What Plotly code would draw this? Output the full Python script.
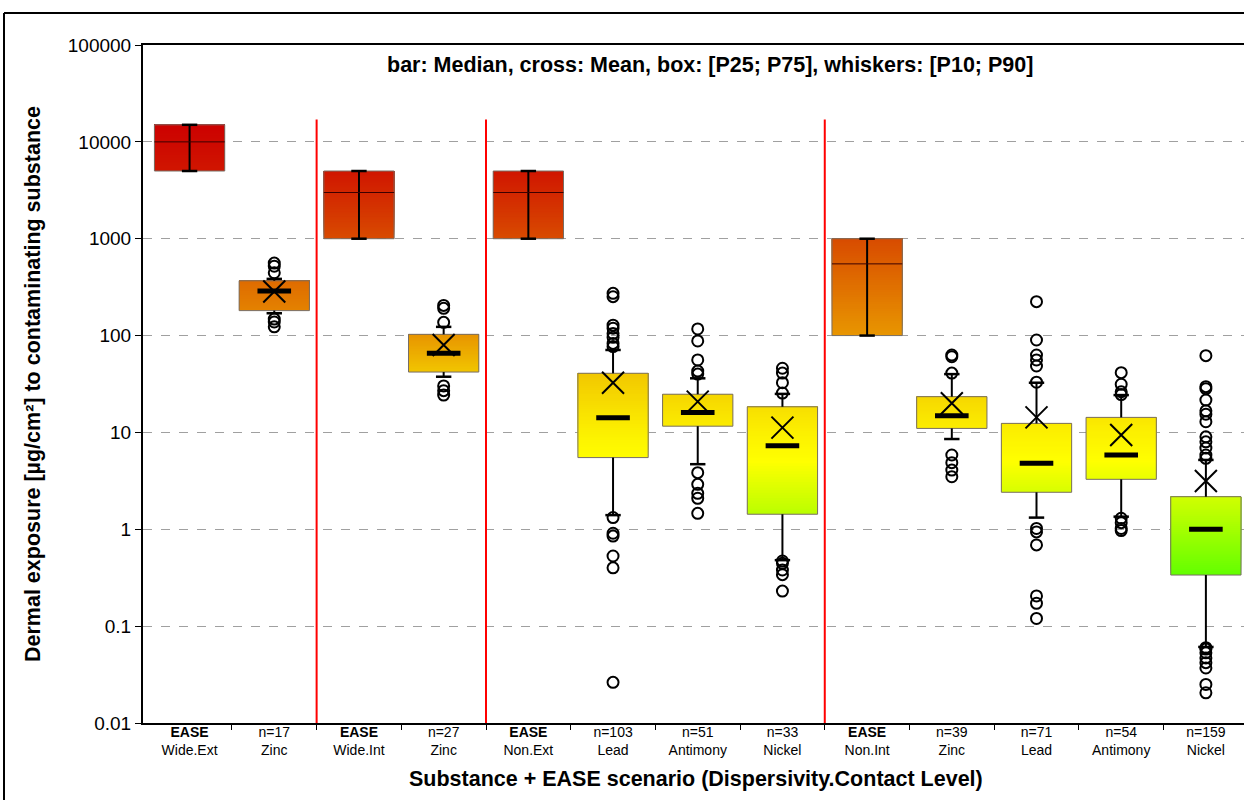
import numpy as np
import plotly.graph_objects as go

# ---------------- data ----------------
label_top = ["<b>EASE</b>", "n=17", "<b>EASE</b>", "n=27", "<b>EASE</b>", "n=103", "n=51",
             "n=33", "<b>EASE</b>", "n=39", "n=71", "n=54", "n=159"]
label_bottom = ["Wide.Ext", "Zinc", "Wide.Int", "Zinc", "Non.Ext", "Lead", "Antimony",
                "Nickel", "Non.Int", "Zinc", "Lead", "Antimony", "Nickel"]
is_ease = [True, False, True, False, True, False, False, False, True, False, False, False, False]

p10 = [5000, 170, 1000, 37.6, 1000, 1.4, 4.7, 0.48, 100, 8.55, 1.32, 1.35, 0.061]
q1 = [5000, 181, 1000, 42, 1000, 5.5, 11.6, 1.43, 100, 11.0, 2.41, 3.28, 0.337]
median = [10000, 288, 3000, 65.6, 3000, 14.2, 16.1, 7.3, 550, 14.9, 4.8, 5.85, 1.0]
q3 = [15000, 368, 5000, 103, 5000, 40.8, 24.8, 18.4, 1000, 23.4, 12.4, 14.3, 2.17]
p90 = [15000, 385, 5000, 123, 5000, 71, 36.2, 25, 1000, 40, 32.6, 24.3, 5.2]
mean = [None, 285, None, 80, None, 32.6, 20.8, 11.2, None, 20.0, 14.3, 9.4, 3.15]

outliers = [
    [],
    [560, 520, 445, 148, 138, 123],
    [],
    [205, 191, 137, 30.2, 27.0, 24.3],
    [],
    [273, 252, 128, 119, 105, 96, 83, 77, 1.32, 0.91, 0.85, 0.53, 0.40, 0.0263],
    [117, 88, 56, 43, 40, 3.84, 2.91, 2.35, 2.09, 1.46],
    [46, 41, 32.6, 25.5, 0.47, 0.445, 0.38, 0.34, 0.23],
    [],
    [63, 60.5, 41, 5.85, 4.87, 4.09, 3.49],
    [224, 90, 63, 56, 48.5, 33, 1.02, 0.94, 0.69, 0.205, 0.172, 0.12],
    [41.4, 31.4, 26.3, 24.6, 1.30, 1.17, 1.02, 0.97],
    [62, 29.7, 28.3, 21.6, 16.7, 15.4, 12.9, 9.0, 8.0, 6.9, 5.85, 5.4,
     0.06, 0.058, 0.053, 0.047, 0.042, 0.037, 0.025, 0.0205],
]

separators = [1.5, 3.5, 7.5]
ytick_vals = [0.01, 0.1, 1, 10, 100, 1000, 10000, 100000]
ytick_text = ["0.01", "0.1", "1", "10", "100", "1000", "10000", "100000"]

# colour ramp over log10(value)
ramp_pos = [-0.5, 0.15, 0.7, 1.0, 1.6, 2.0, 3.0, 3.7, 4.2]
ramp_rgb = [(95, 255, 0), (185, 255, 0), (255, 255, 0), (252, 240, 0), (242, 200, 0),
            (232, 150, 0), (216, 75, 0), (208, 22, 0), (204, 0, 0)]

FONT = "Liberation Sans, Arial, sans-serif"
BOX_W = 0.83
N_SEG = 40


def ramp(lv):
    r = np.interp(lv, ramp_pos, [c[0] for c in ramp_rgb])
    g = np.interp(lv, ramp_pos, [c[1] for c in ramp_rgb])
    b = np.interp(lv, ramp_pos, [c[2] for c in ramp_rgb])
    return f"rgb({int(round(r))},{int(round(g))},{int(round(b))})"


fig = go.Figure()
xs = list(range(len(label_bottom)))

# gradient boxes: each layer runs from its lower edge up to P75, drawn bottom-up
seg_x, seg_base, seg_h, seg_c = [], [], [], []
for i in xs:
    edges = np.logspace(np.log10(q1[i]), np.log10(q3[i]), N_SEG + 1)
    for k in range(N_SEG):
        lo, hi = edges[k], edges[k + 1]
        seg_x.append(i)
        seg_base.append(lo)
        seg_h.append(q3[i] - lo)
        seg_c.append(ramp(np.log10(np.sqrt(lo * hi))))
fig.add_trace(go.Bar(x=seg_x, y=seg_h, base=seg_base, width=BOX_W,
                     marker=dict(color=seg_c, line=dict(width=0)),
                     hoverinfo="skip", showlegend=False))
# box outlines
fig.add_trace(go.Bar(x=xs, y=[q3[i] - q1[i] for i in xs], base=q1, width=BOX_W,
                     marker=dict(color="rgba(0,0,0,0)",
                                 line=dict(color="rgb(120,110,100)", width=1)),
                     hoverinfo="skip", showlegend=False))

# whiskers
wx, wy = [], []
for i in xs:
    if is_ease[i]:
        wx += [i, i, None]
        wy += [p10[i], p90[i], None]
    else:
        wx += [i, i, None, i, i, None]
        wy += [q3[i], p90[i], None, p10[i], q1[i], None]
fig.add_trace(go.Scatter(x=wx, y=wy, mode="lines", line=dict(color="black", width=2),
                         hoverinfo="skip", showlegend=False))
# whisker caps
cx = [i for i in xs] + [i for i in xs]
cy = p10 + p90
fig.add_trace(go.Scatter(x=cx, y=cy, mode="markers",
                         marker=dict(symbol="line-ew", size=11, color="black",
                                     line=dict(color="black", width=2.5)),
                         hoverinfo="skip", showlegend=False))

# EASE medians: thin line across the box
mx, my = [], []
for i in xs:
    if is_ease[i]:
        mx += [i - BOX_W / 2, i + BOX_W / 2, None]
        my += [median[i], median[i], None]
fig.add_trace(go.Scatter(x=mx, y=my, mode="lines", line=dict(color="rgb(60,0,0)", width=1),
                         hoverinfo="skip", showlegend=False))

# substance medians: thick bar
sub = [i for i in xs if not is_ease[i]]
fig.add_trace(go.Scatter(x=sub, y=[median[i] for i in sub], mode="markers",
                         marker=dict(symbol="line-ew", size=24, color="black",
                                     line=dict(color="black", width=5)),
                         hoverinfo="skip", showlegend=False))
# means
fig.add_trace(go.Scatter(x=sub, y=[mean[i] for i in sub], mode="markers",
                         marker=dict(symbol="x-thin", size=22, color="black",
                                     line=dict(color="black", width=2)),
                         hoverinfo="skip", showlegend=False))
# outliers
ox, oy = [], []
for i in xs:
    for v in outliers[i]:
        ox.append(i)
        oy.append(v)
fig.add_trace(go.Scatter(x=ox, y=oy, mode="markers",
                         marker=dict(symbol="circle-open", size=11, color="black",
                                     line=dict(color="black", width=2)),
                         hoverinfo="skip", showlegend=False))

# red separators
rx, ry = [], []
for s in separators:
    rx += [s, s, None]
    ry += [0.01, 17000, None]
fig.add_trace(go.Scatter(x=rx, y=ry, mode="lines", line=dict(color="rgb(255,0,0)", width=2),
                         hoverinfo="skip", showlegend=False))

ticktext = [f"{t}<br>{b}" for t, b in zip(label_top, label_bottom)]

fig.update_layout(
    width=1244, height=800,
    margin=dict(l=143, r=0, t=45, b=77),
    paper_bgcolor="white", plot_bgcolor="white",
    barmode="overlay",
    font=dict(family=FONT, color="black"),
    showlegend=False,
    xaxis=dict(range=[-0.55, 12.45], tickvals=xs, ticktext=ticktext,
               tickfont=dict(size=14, family=FONT), ticks="", ticklabelstandoff=-5,
               showgrid=False, zeroline=False,
               showline=True, linecolor="black", linewidth=2, mirror=True,
               minor=dict(tickvals=[k + 0.5 for k in range(12)], ticks="outside",
                          ticklen=5, tickcolor="black", tickwidth=1, showgrid=False)),
    yaxis=dict(type="log", range=[-2, 5], tickvals=ytick_vals, ticktext=ytick_text,
               tickfont=dict(size=19, family=FONT), ticks="outside", ticklen=6,
               tickcolor="black", showline=True, linecolor="black", linewidth=2,
               showgrid=True, gridcolor="rgb(160,160,160)", griddash="dash", gridwidth=1,
               zeroline=False),
    annotations=[
        dict(text="bar: Median, cross: Mean, box: [P25; P75], whiskers: [P10; P90]",
             xref="paper", yref="paper", x=(710 - 143) / 1101, y=(723 - 65) / 678,
             xanchor="center", yanchor="middle", showarrow=False,
             font=dict(size=21.5, family=FONT, weight="bold")),
        dict(text="Substance + EASE scenario (Dispersivity.Contact Level)",
             xref="paper", yref="paper", x=(696 - 143) / 1101, y=(723 - 779) / 678,
             xanchor="center", yanchor="middle", showarrow=False,
             font=dict(size=21.5, family=FONT, weight="bold")),
        dict(text="Dermal exposure [µg/cm²] to contaminating substance",
             xref="paper", yref="paper", x=(33 - 143) / 1101, y=(723 - 384) / 678,
             xanchor="center", yanchor="middle", showarrow=False, textangle=-90,
             font=dict(size=21.5, family=FONT, weight="bold")),
    ],
    shapes=[
        dict(type="line", xref="paper", yref="paper",
             x0=(4 - 143) / 1101, x1=(4 - 143) / 1101, y0=(723 - 13) / 678, y1=-0.3,
             line=dict(color="black", width=2)),
        dict(type="line", xref="paper", yref="paper",
             x0=(4 - 143) / 1101, x1=1.05, y0=(723 - 13) / 678, y1=(723 - 13) / 678,
             line=dict(color="black", width=2)),
    ],
)

fig.write_html("out.html")
